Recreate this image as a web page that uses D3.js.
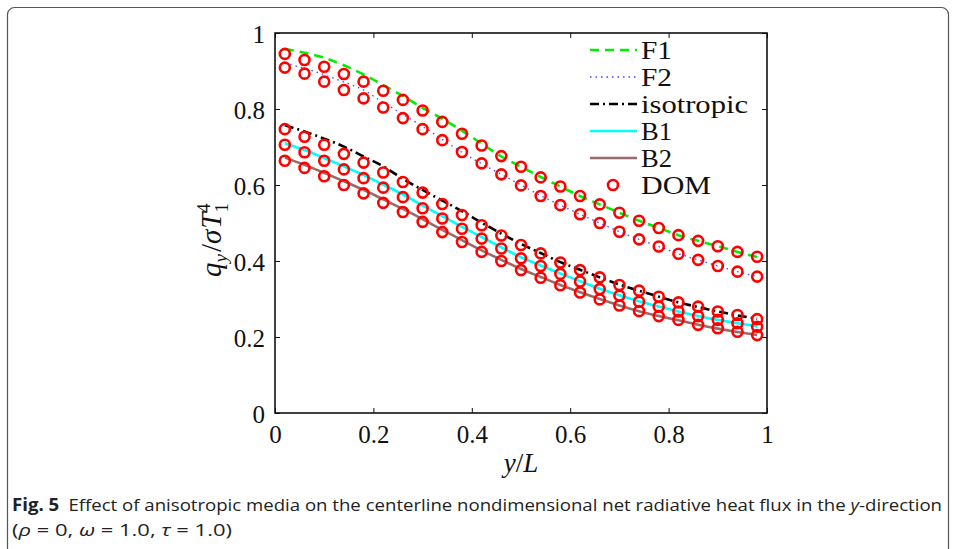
<!DOCTYPE html>
<html><head><meta charset="utf-8">
<script src="https://cdn.jsdelivr.net/npm/d3@7"></script>
<style>
html,body{margin:0;padding:0;background:#fff;}
svg{display:block;}
</style>
</head><body>
<svg id="chart" width="954" height="549"></svg>
<script>
// ---- data ----
const xVals = [0.02,0.06,0.10,0.14,0.18,0.22,0.26,0.30,0.34,0.38,0.42,0.46,0.50,0.54,0.58,0.62,0.66,0.70,0.74,0.78,0.82,0.86,0.90,0.94,0.98];
const lineF1  = [0.958,0.948,0.935,0.915,0.891,0.863,0.834,0.803,0.774,0.743,0.709,0.675,0.648,0.621,0.596,0.571,0.549,0.527,0.506,0.487,0.468,0.453,0.439,0.424,0.410];
const lineF2  = [0.920,0.907,0.890,0.871,0.850,0.817,0.786,0.754,0.720,0.686,0.656,0.628,0.600,0.572,0.547,0.523,0.500,0.477,0.457,0.438,0.419,0.403,0.387,0.372,0.359];
const lineIso = [0.757,0.741,0.722,0.701,0.675,0.649,0.616,0.587,0.559,0.531,0.501,0.472,0.445,0.421,0.397,0.377,0.357,0.338,0.322,0.306,0.291,0.279,0.267,0.257,0.248];
const lineB1  = [0.710,0.692,0.671,0.649,0.626,0.601,0.575,0.546,0.518,0.490,0.463,0.436,0.410,0.388,0.367,0.347,0.327,0.310,0.294,0.280,0.267,0.255,0.245,0.236,0.228];
const lineB2  = [0.672,0.653,0.632,0.610,0.587,0.562,0.537,0.510,0.482,0.455,0.428,0.403,0.379,0.358,0.337,0.318,0.300,0.283,0.268,0.255,0.244,0.232,0.222,0.213,0.205];
const domF1  = [0.945,0.929,0.911,0.892,0.872,0.848,0.824,0.796,0.766,0.735,0.704,0.676,0.648,0.620,0.596,0.571,0.549,0.527,0.506,0.487,0.468,0.453,0.439,0.424,0.411];
const domF2  = [0.909,0.893,0.872,0.850,0.828,0.804,0.776,0.747,0.718,0.687,0.657,0.628,0.599,0.571,0.547,0.523,0.500,0.477,0.457,0.438,0.419,0.403,0.387,0.372,0.359];
const domIso = [0.747,0.727,0.706,0.682,0.659,0.633,0.608,0.580,0.550,0.521,0.494,0.467,0.442,0.420,0.396,0.376,0.357,0.337,0.322,0.306,0.291,0.280,0.267,0.258,0.247];
const domB1  = [0.706,0.686,0.664,0.641,0.618,0.593,0.568,0.539,0.512,0.485,0.459,0.433,0.407,0.387,0.366,0.346,0.326,0.309,0.293,0.280,0.267,0.255,0.245,0.236,0.227];
const domB2  = [0.664,0.645,0.623,0.600,0.578,0.553,0.529,0.503,0.476,0.450,0.424,0.400,0.376,0.356,0.336,0.317,0.299,0.283,0.268,0.255,0.245,0.232,0.223,0.214,0.205];
const xTicks = [0,0.2,0.4,0.6,0.8,1];
const yTicks = [0,0.2,0.4,0.6,0.8,1];
const tickLabels = ["0","0.2","0.4","0.6","0.8","1"];
const seriesNames = ["F1","F2","isotropic","B1","B2"];
const domName = "DOM";

// ---- layout ----
const svg = d3.select("#chart");
const X0 = 275, X1 = 767, Y0 = 413, Y1 = 33;
const x = d3.scaleLinear().domain([0,1]).range([X0,X1]);
const y = d3.scaleLinear().domain([0,1]).range([Y0,Y1]);
const serif = "'Liberation Serif','DejaVu Serif',serif";

// outer frame
svg.append("rect").attr("x",7.5).attr("y",7.5).attr("width",941).attr("height",580)
  .attr("rx",7).attr("fill","none").attr("stroke","#555").attr("stroke-width",1.2);

// axes box
svg.append("rect").attr("x",X0).attr("y",Y1).attr("width",X1-X0).attr("height",Y0-Y1)
  .attr("fill","none").attr("stroke","#111").attr("stroke-width",1.6);

// bottom axis
const gx = svg.append("g").attr("transform",`translate(0,${Y0})`)
  .call(d3.axisBottom(x).tickValues(xTicks).tickSizeInner(-5).tickSizeOuter(0).tickPadding(12)
    .tickFormat((d,i)=>tickLabels[i]));
// top ticks
svg.append("g").attr("transform",`translate(0,${Y1})`)
  .call(d3.axisTop(x).tickValues(xTicks).tickSizeInner(-5).tickSizeOuter(0).tickFormat(""));
// left axis
const gy = svg.append("g").attr("transform",`translate(${X0},0)`)
  .call(d3.axisLeft(y).tickValues(yTicks).tickSizeInner(-5).tickSizeOuter(0).tickPadding(10)
    .tickFormat((d,i)=>tickLabels[i]));
// right ticks
svg.append("g").attr("transform",`translate(${X1},0)`)
  .call(d3.axisRight(y).tickValues(yTicks).tickSizeInner(-5).tickSizeOuter(0).tickFormat(""));
svg.selectAll(".domain").remove();
svg.selectAll(".tick line").attr("stroke","#111").attr("stroke-width",1);
svg.selectAll(".tick text").attr("font-family",serif).attr("font-size",25).attr("fill","#111");
gx.selectAll(".tick text").attr("dy","0.71em");
gy.selectAll(".tick text").attr("dy","0.36em");

// ---- series lines ----
const styles = [
  {color:"#00ee00", width:2.6, dash:"9,6"},
  {color:"#4444ff", width:1.3, dash:"1.5,4"},
  {color:"#000000", width:2.6, dash:"9,4,2,4"},
  {color:"#00ffff", width:2.6, dash:null},
  {color:"#9a6a6a", width:2.6, dash:null}
];
const lines = [lineF1,lineF2,lineIso,lineB1,lineB2];
const doms = [domF1,domF2,domIso,domB1,domB2];
const lineGen = d3.line().x(d=>x(d[0])).y(d=>y(d[1])).curve(d3.curveMonotoneX);
lines.forEach((arr,k)=>{
  const st = styles[k];
  svg.append("path").datum(xVals.map((xv,i)=>[xv,arr[i]]))
    .attr("d",lineGen).attr("fill","none").attr("stroke",st.color)
    .attr("stroke-width",st.width).attr("stroke-dasharray",st.dash);
});
// DOM markers
doms.forEach(arr=>{
  svg.append("g").selectAll("circle").data(xVals.map((xv,i)=>[xv,arr[i]])).join("circle")
    .attr("cx",d=>x(d[0])).attr("cy",d=>y(d[1])).attr("r",5)
    .attr("fill","none").attr("stroke","#ff0000").attr("stroke-width",2.6);
});

// ---- legend ----
const legY0 = 50, legDy = 27;
const legW = [31,31,107,31,31];
const lg = svg.append("g");
seriesNames.forEach((nm,k)=>{
  const st = styles[k], yy = legY0 + k*legDy;
  lg.append("line").attr("x1",590).attr("x2",637).attr("y1",yy).attr("y2",yy)
    .attr("stroke",st.color).attr("stroke-width",st.width).attr("stroke-dasharray",st.dash);
  lg.append("text").attr("x",641).attr("y",yy).attr("dy","0.36em")
    .attr("font-family",serif).attr("font-size",26).attr("fill","#111")
    .attr("textLength",legW[k]).attr("lengthAdjust","spacingAndGlyphs").text(nm);
});
{
  const yy = legY0 + 5*legDy;
  lg.append("circle").attr("cx",613).attr("cy",yy).attr("r",5)
    .attr("fill","none").attr("stroke","#ff0000").attr("stroke-width",2.6);
  lg.append("text").attr("x",641).attr("y",yy).attr("dy","0.36em")
    .attr("font-family",serif).attr("font-size",26).attr("fill","#111")
    .attr("textLength",70).attr("lengthAdjust","spacingAndGlyphs").text(domName);
}

// ---- axis titles ----
const xl = svg.append("text").attr("x",521).attr("y",472).attr("text-anchor","middle")
  .attr("font-family",serif).attr("font-size",27).attr("fill","#111");
xl.append("tspan").attr("font-style","italic").text("y");
xl.append("tspan").text("/");
xl.append("tspan").attr("font-style","italic").text("L");

const yl = svg.append("text").attr("transform","translate(221,240) rotate(-90)")
  .attr("text-anchor","middle").attr("font-family",serif).attr("font-size",29).attr("fill","#111");
yl.append("tspan").attr("font-style","italic").text("q");
yl.append("tspan").attr("font-style","italic").attr("font-size",19).attr("dy",6).text("y");
yl.append("tspan").attr("dy",-6).attr("dx",2).text("/");
yl.append("tspan").attr("font-style","italic").text("σ");
yl.append("tspan").attr("font-style","italic").attr("dx",1).text("T");
yl.append("tspan").attr("font-size",19).attr("dy",7).text("1");
yl.append("tspan").attr("font-size",19).attr("dx",-10).attr("dy",-18).text("4");

// ---- caption ----
const sans = "'Open Sans','Noto Sans',sans-serif";
const c1 = svg.append("text").attr("x",12).attr("y",511).attr("font-family",sans)
  .attr("font-size",17).attr("fill","#222").attr("textLength",930).attr("lengthAdjust","spacingAndGlyphs");
c1.append("tspan").attr("font-weight","bold").text("Fig. 5");
c1.append("tspan").text("\u2002Effect of anisotropic media on the centerline nondimensional net radiative heat flux in the ");
c1.append("tspan").attr("font-style","italic").text("y");
c1.append("tspan").text("-direction");
const c2 = svg.append("text").attr("x",12).attr("y",536).attr("font-family",sans)
  .attr("font-size",17).attr("fill","#222").attr("textLength",220).attr("lengthAdjust","spacingAndGlyphs");
c2.append("tspan").text("(");
c2.append("tspan").attr("font-style","italic").text("ρ");
c2.append("tspan").text(" = 0, ");
c2.append("tspan").attr("font-style","italic").text("ω");
c2.append("tspan").text(" = 1.0, ");
c2.append("tspan").attr("font-style","italic").text("τ");
c2.append("tspan").text(" = 1.0)");
</script>
</body></html>
